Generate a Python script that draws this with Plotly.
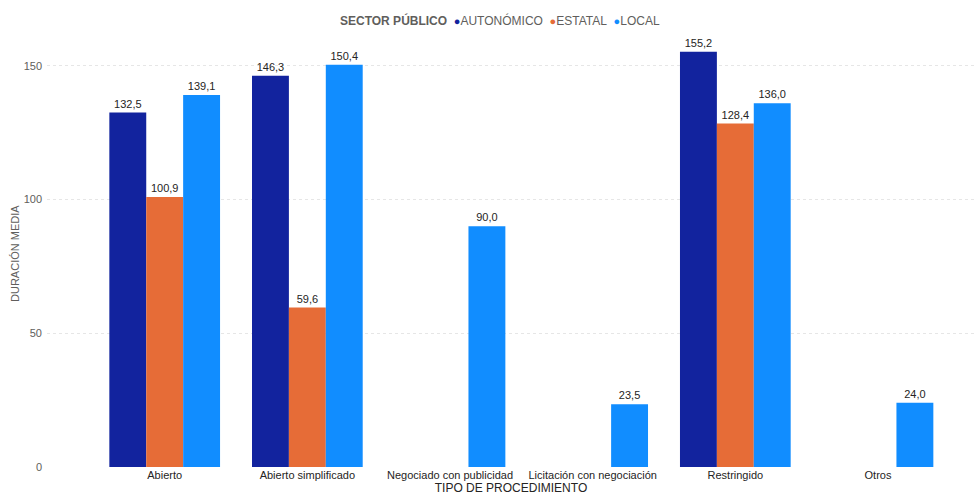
import plotly.graph_objects as go

categories = ["Abierto", "Abierto simplificado", "Negociado con publicidad",
              "Licitación con negociación", "Restringido", "Otros"]
autonomico = [132.5, 146.3, None, None, 155.2, None]
estatal = [100.9, 59.6, None, None, 128.4, None]
local = [139.1, 150.4, 90.0, 23.5, 136.0, 24.0]
series_names = ["AUTONÓMICO", "ESTATAL", "LOCAL"]
colors = ["#12239E", "#E66C37", "#118DFF"]
y_ticks = [0, 50, 100, 150]

def fmt(v):
    return "" if v is None else f"{v:.1f}".replace(".", ",")

fig = go.Figure()
for name, vals, col in zip(series_names, [autonomico, estatal, local], colors):
    fig.add_trace(go.Bar(
        x=categories, y=vals, name=name, marker_color=col, marker_line_width=0,
        text=[fmt(v) for v in vals], textposition="outside", cliponaxis=False,
        textfont=dict(size=11, color="#252423", family="Liberation Sans, Arial"),
        showlegend=False,
    ))

legend_text = "<b>SECTOR PÚBLICO</b>&nbsp;&nbsp;" + "&nbsp;&nbsp;".join(
    f"<span style='color:{c};font-size:11px'>●</span>{n}" for n, c in zip(series_names, colors)
)
fig.add_annotation(
    text=legend_text, xref="paper", yref="paper", x=0.488, xanchor="center",
    y=1.044, yanchor="middle", showarrow=False,
    font=dict(size=12, color="#605E5C", family="Liberation Sans, Arial"),
)
fig.add_annotation(
    text="DURACIÓN MEDIA", xref="paper", yref="paper", x=-0.0345, xanchor="center",
    y=0.5, yanchor="middle", textangle=-90, showarrow=False,
    font=dict(size=11, color="#605E5C", family="Liberation Sans, Arial"),
)

fig.update_layout(
    width=980, height=495,
    paper_bgcolor="white", plot_bgcolor="white",
    font=dict(family="Liberation Sans, Arial", size=11, color="#605E5C"),
    barmode="group", bargap=0.224, bargroupgap=0,
    margin=dict(l=47, r=5, t=39, b=28, autoexpand=False),
    showlegend=False,
    uniformtext=dict(minsize=11, mode="show"),
)
fig.update_xaxes(
    type="category", range=[-0.825, 5.68], showgrid=False, showline=False,
    ticks="", tickfont=dict(size=11, color="#252423"),
    title=dict(text="TIPO DE PROCEDIMIENTO", standoff=3, font=dict(size=12, color="#252423")),
    automargin=False,
)
fig.update_yaxes(
    range=[0, 160], tickvals=y_ticks, showgrid=True, gridcolor="#E6E6E6",
    griddash="dot", gridwidth=1, zeroline=False, showline=False,
    tickfont=dict(size=11, color="#605E5C"), ticklabelstandoff=4,
    automargin=False,
)
fig.write_html("out.html", config={"displayModeBar": False},
               post_script="document.body.style.margin='0';")
